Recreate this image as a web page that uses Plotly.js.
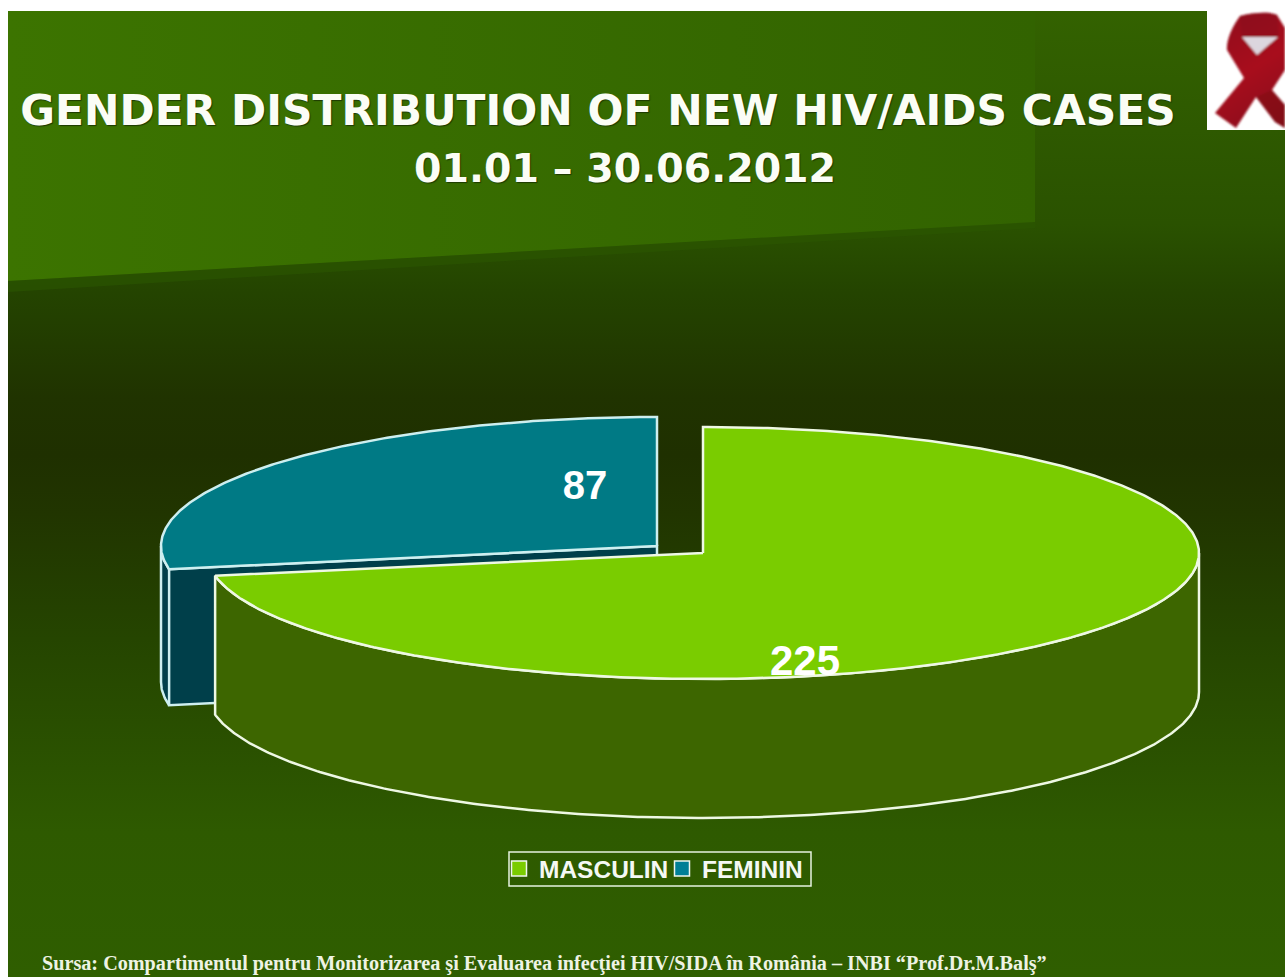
<!DOCTYPE html>
<html>
<head>
<meta charset="utf-8">
<script src="https://cdn.plot.ly/plotly-3.0.1.min.js"></script>
<style>
html,body{margin:0;padding:0;background:#fff;width:1285px;height:977px;overflow:hidden}
#bg{position:absolute;left:0;top:0}
#chart{position:absolute;left:0;top:0;width:1285px;height:977px}
</style>
</head>
<body>
<svg id="bg" width="1285" height="977" viewBox="0 0 1285 977" xmlns="http://www.w3.org/2000/svg">
  <defs>
    <linearGradient id="base" gradientUnits="userSpaceOnUse" x1="0" y1="11" x2="0" y2="977">
      <stop offset="0" stop-color="#336200"/>
      <stop offset="0.22" stop-color="#2a5200"/>
      <stop offset="0.29" stop-color="#244400"/>
      <stop offset="0.40" stop-color="#203300"/>
      <stop offset="0.46" stop-color="#1f3000"/>
      <stop offset="0.52" stop-color="#213500"/>
      <stop offset="0.65" stop-color="#254500"/>
      <stop offset="0.85" stop-color="#2e5a00"/>
      <stop offset="1" stop-color="#2f5e00"/>
    </linearGradient>
    <linearGradient id="wedge" gradientUnits="userSpaceOnUse" x1="8" y1="0" x2="1035" y2="0">
      <stop offset="0" stop-color="#3c7400"/>
      <stop offset="1" stop-color="#326300"/>
    </linearGradient>
    <linearGradient id="rib" gradientUnits="userSpaceOnUse" x1="1215" y1="15" x2="1285" y2="125">
      <stop offset="0" stop-color="#8f0c1c"/>
      <stop offset="0.5" stop-color="#a8101f"/>
      <stop offset="1" stop-color="#860a18"/>
    </linearGradient>
    <filter id="soft"><feGaussianBlur stdDeviation="0.8"/></filter>
  </defs>
  <path d="M8,11 H1207 V130 H1285 V977 H8 Z" fill="url(#base)"/>
  <path d="M8,281 L1035,222 L1035,228 L8,292 Z" fill="#2c5600" opacity="0.6"/>
  <path d="M8,11 H1035 V222 L8,281 Z" fill="url(#wedge)"/>
  <g filter="url(#soft)">
    <path d="M1240,16 C1255,12 1272,12 1277,15 L1285,28 L1285,70 L1272,90 L1285,105 L1285,128 L1275,122 L1256,97 L1236,128 L1215,113 L1244,78 L1227,50 C1226,40 1233,25 1240,16 Z" fill="url(#rib)"/>
    <path d="M1242,37 L1278,37 L1257,55 Z" fill="#dcd6de"/>
    <path d="M1240,16 C1255,12 1272,12 1277,15 L1279,37 L1242,37 Z" fill="#8a0c1a" opacity="0.55"/>
    <path d="M1256,97 L1272,90 L1285,105 L1285,128 L1275,122 Z" fill="#7c0816" opacity="0.5"/>
  </g>
</svg>
<div id="chart"></div>
<script>
// Chart data
var categories = ['MASCULIN', 'FEMININ'];
var values = [225, 87];
var valueLabels = ['225', '87'];

// Colours
var topColors = ['#7acc00', '#007a85'];
var sideColors = ['#3d6600', '#003f4a'];
var edgeColors = ['#eef8e4', '#cdeff0'];
var legendColors = ['#7acc00', '#007f96'];

// Projection of the tilted pie on the page
var proj = {
  masculin: {cx: 703, cy: 553, rx: 496, ry: 126, depth: 139},
  feminin:  {cx: 657, cy: 546, rx: 496, ry: 129, depth: 136}
};

var total = values.reduce(function (a, b) { return a + b; }, 0);
var split = values[0] / total * 360;

function pt(p, deg, dz) {
  var r = deg * Math.PI / 180;
  return [p.cx + p.rx * Math.sin(r), p.cy - p.ry * Math.cos(r) + (dz || 0)];
}
function arc(p, a0, a1, dz) {
  var out = [], n = Math.max(2, Math.round(Math.abs(a1 - a0) * 2));
  for (var i = 0; i <= n; i++) out.push(pt(p, a0 + (a1 - a0) * i / n, dz));
  return out;
}
function poly(points, fill, edge, width) {
  return {
    type: 'scatter', mode: 'lines', hoverinfo: 'skip', showlegend: false,
    x: points.map(function (q) { return q[0]; }),
    y: points.map(function (q) { return q[1]; }),
    fill: 'toself', fillcolor: fill,
    line: {color: edge, width: width || 2.5}
  };
}

var M = proj.masculin, F = proj.feminin;
var traces = [];

// FEMININ: outer wall, cut wall, top face
traces.push(poly(arc(F, split, 270, 0).concat(arc(F, 270, split, F.depth)), sideColors[1], edgeColors[1]));
traces.push(poly([pt(F, split), [F.cx, F.cy], [F.cx, F.cy + F.depth], pt(F, split, F.depth), pt(F, split)], sideColors[1], edgeColors[1]));
traces.push(poly([[F.cx, F.cy]].concat(arc(F, split, 360)).concat([[F.cx, F.cy]]), topColors[1], edgeColors[1]));

// MASCULIN: outer wall, top face
traces.push(poly(arc(M, 90, split, 0).concat(arc(M, split, 90, M.depth)).concat([pt(M, 90)]), sideColors[0], edgeColors[0]));
traces.push(poly([[M.cx, M.cy]].concat(arc(M, 0, split)).concat([[M.cx, M.cy]]), topColors[0], edgeColors[0]));

// Value labels
traces.push({
  type: 'scatter', mode: 'text', hoverinfo: 'skip', showlegend: false,
  x: [805, 585], y: [664, 489],
  text: valueLabels,
  textposition: 'middle center',
  textfont: {family: 'Liberation Sans', size: [42, 40], color: '#ffffff', weight: 700}
});

// Legend entries
categories.forEach(function (c, i) {
  traces.push({
    type: 'scatter', mode: 'markers', name: c, x: [null], y: [null],
    marker: {symbol: 'square', size: 15, color: legendColors[i], line: {color: '#eef6ee', width: 1.5}}
  });
});

var layout = {
  width: 1285, height: 977,
  margin: {l: 0, r: 0, t: 0, b: 0},
  paper_bgcolor: 'rgba(0,0,0,0)',
  plot_bgcolor: 'rgba(0,0,0,0)',
  xaxis: {visible: false, range: [0, 1285], fixedrange: true},
  yaxis: {visible: false, range: [977, 0], fixedrange: true},
  title: {
    text: 'GENDER DISTRIBUTION OF NEW HIV/AIDS CASES',
    x: 598 / 1285, xref: 'paper', xanchor: 'center',
    y: 1 - 110 / 977, yref: 'paper', yanchor: 'middle',
    font: {family: 'DejaVu Sans', size: 42.4, weight: 700, color: '#fbfdf6', shadow: '1px 1px 1px #1d3a00'}
  },
  annotations: [
    {
      text: '01.01 – 30.06.2012', xref: 'x', yref: 'y', x: 625, y: 168,
      showarrow: false, xanchor: 'center', yanchor: 'middle',
      font: {family: 'DejaVu Sans', size: 39.5, weight: 700, color: '#fbfdf6', shadow: '1px 1px 1px #1d3a00'}
    },
    {
      text: 'Sursa: Compartimentul pentru Monitorizarea şi Evaluarea infecţiei HIV/SIDA în România – INBI “Prof.Dr.M.Balş”',
      xref: 'x', yref: 'y', x: 40, y: 963,
      showarrow: false, xanchor: 'left', yanchor: 'middle',
      font: {family: 'Liberation Serif', size: 20.2, weight: 700, color: '#eef3e4'}
    }
  ],
  shapes: [
    {type: 'rect', xref: 'x', yref: 'y', x0: 509, x1: 811, y0: 852, y1: 886,
     line: {color: '#e6f2e0', width: 1.5}, fillcolor: 'rgba(0,0,0,0)'}
  ],
  showlegend: true,
  legend: {
    orientation: 'h',
    x: 499 / 1285, xanchor: 'left',
    y: 1 - 846 / 977, yanchor: 'top',
    bgcolor: 'rgba(0,0,0,0)',
    borderwidth: 0,
    font: {family: 'Liberation Sans', size: 24.5, weight: 700, color: '#f4f8f4'},
    itemwidth: 30, tracegroupgap: 0,
    entrywidth: 118, entrywidthmode: 'pixels'
  }
};

Plotly.newPlot('chart', traces, layout, {displayModeBar: false, staticPlot: true});
</script>
</body>
</html>
